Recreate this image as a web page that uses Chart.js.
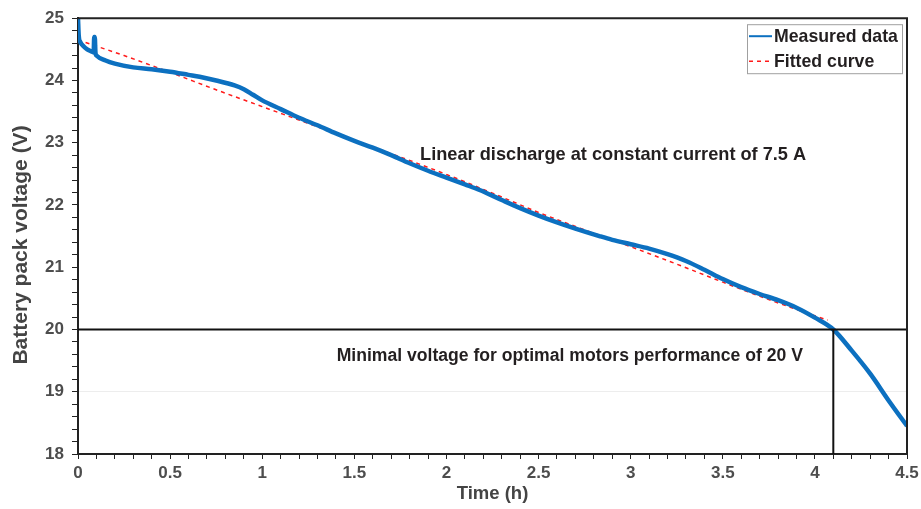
<!DOCTYPE html>
<html lang="en">
<head>
    <meta charset="UTF-8">
    <title>Battery pack discharge</title>
    <script src="https://cdn.jsdelivr.net/npm/chart.js"></script>
    <style>
        body {
            margin: 0;
            background: #fff;
        }
        .chart-box {
            position: relative;
            width: 921px;
            height: 509px;
        }
    </style>
</head>
<body>
    <div class="chart-box">
        <canvas id="dischargeChart"></canvas>
    </div>

    <script>
        // Measured pack voltage (h, V)
        const timeMeasured = [0, 0.004, 0.012, 0.03, 0.05, 0.07, 0.085, 0.088, 0.091, 0.095, 0.1, 0.15, 0.2, 0.3, 0.4,
            0.5, 0.6, 0.66, 0.75, 0.85, 0.9, 0.95, 1.0, 1.1, 1.2, 1.3, 1.4, 1.5, 1.6, 1.7, 1.8, 1.9, 2.0, 2.1, 2.18,
            2.3, 2.4, 2.5, 2.6, 2.7, 2.83, 2.9, 3.0, 3.1, 3.2, 3.3, 3.4, 3.5, 3.6, 3.7, 3.8, 3.9, 4.0, 4.1, 4.2,
            4.3, 4.4, 4.5];
        const voltMeasured = [25.0, 24.72, 24.62, 24.55, 24.5, 24.47, 24.45, 24.7, 24.7, 24.44, 24.4, 24.32, 24.27, 24.21, 24.18,
            24.14, 24.09, 24.06, 24.0, 23.92, 23.86, 23.77, 23.68, 23.54, 23.4, 23.28, 23.15, 23.03, 22.92, 22.8, 22.67, 22.55, 22.44, 22.33, 22.24,
            22.08, 21.95, 21.83, 21.72, 21.62, 21.5, 21.44, 21.37, 21.3, 21.21, 21.1, 20.96, 20.81, 20.68, 20.57, 20.47, 20.35, 20.19, 20.0, 19.66,
            19.29, 18.86, 18.45];

        // Fitted curve
        const timeFit = [0, 0.25, 0.5, 0.75, 1.0, 1.25, 1.5, 1.75, 2.0, 2.25, 2.5, 2.75, 3.0, 3.25, 3.5, 3.75, 4.0, 4.07];
        const voltFit = [24.65, 24.4, 24.13, 23.85, 23.58, 23.31, 23.04, 22.77, 22.49, 22.19, 21.88, 21.6, 21.33, 21.05, 20.76, 20.48, 20.22, 20.15];

        // Minimum voltage marker
        const minVolt = 20;
        const minTime = 4.1;

        const xMin = 0, xMax = 4.5;
        const yMin = 18, yMax = 25;

        const fontFamily = '"Liberation Sans", Arial, sans-serif';

        function toPoints(xs, ys) {
            return xs.map((x, i) => ({ x: x, y: ys[i] }));
        }

        // top/right frame, y title, annotations and legend box
        const extrasPlugin = {
            id: 'extras',
            afterDatasetsDraw(chart) {
                const ctx = chart.ctx;
                const area = chart.chartArea;
                const xs = chart.scales.x;
                const ys = chart.scales.y;
                ctx.save();

                ctx.strokeStyle = '#222';
                ctx.lineWidth = 2;
                ctx.beginPath();
                ctx.moveTo(area.left, area.top);
                ctx.lineTo(area.right, area.top);
                ctx.lineTo(area.right, area.bottom);
                ctx.stroke();

                // y axis title
                ctx.save();
                ctx.translate(21, 245);
                ctx.rotate(-Math.PI / 2);
                ctx.fillStyle = '#444';
                ctx.font = 'bold 21px ' + fontFamily;
                ctx.textAlign = 'center';
                ctx.textBaseline = 'middle';
                ctx.fillText('Battery pack voltage (V)', 0, 0);
                ctx.restore();

                ctx.fillStyle = '#231f20';
                ctx.textBaseline = 'middle';
                ctx.textAlign = 'left';
                ctx.font = 'bold 18.2px ' + fontFamily;
                ctx.fillText('Linear discharge at constant current of 7.5 A', xs.getPixelForValue(1.857), ys.getPixelForValue(22.81));
                ctx.font = 'bold 17.6px ' + fontFamily;
                ctx.fillText('Minimal voltage for optimal motors performance of 20 V', xs.getPixelForValue(1.404), ys.getPixelForValue(19.57));

                // legend
                const lx = area.right - 160, ly = area.top + 6;
                ctx.fillStyle = '#fff';
                ctx.fillRect(lx, ly, 155, 49);
                ctx.strokeStyle = '#a0a0a0';
                ctx.lineWidth = 1;
                ctx.strokeRect(lx + 0.5, ly + 0.5, 155, 49);

                ctx.strokeStyle = '#0c70c0';
                ctx.lineWidth = 2;
                ctx.beginPath();
                ctx.moveTo(lx + 2, ly + 12);
                ctx.lineTo(lx + 25, ly + 12);
                ctx.stroke();

                ctx.strokeStyle = '#ff1a1a';
                ctx.lineWidth = 1.5;
                ctx.setLineDash([4, 4]);
                ctx.beginPath();
                ctx.moveTo(lx + 2, ly + 37);
                ctx.lineTo(lx + 25, ly + 37);
                ctx.stroke();
                ctx.setLineDash([]);

                ctx.fillStyle = '#231f20';
                ctx.font = 'bold 17.7px ' + fontFamily;
                ctx.fillText('Measured data', lx + 27, ly + 13);
                ctx.fillText('Fitted curve', lx + 27, ly + 38);

                ctx.restore();
            }
        };

        new Chart(document.getElementById('dischargeChart'), {
            type: 'line',
            data: {
                datasets: [
                    {
                        label: 'Minimal voltage',
                        data: [{ x: xMin, y: minVolt }, { x: xMax, y: minVolt }],
                        borderColor: '#111',
                        borderWidth: 2,
                        pointRadius: 0
                    },
                    {
                        label: 'Minimal time',
                        data: [{ x: minTime, y: yMin }, { x: minTime, y: minVolt }],
                        borderColor: '#111',
                        borderWidth: 2,
                        pointRadius: 0
                    },
                    {
                        label: 'Measured data',
                        data: toPoints(timeMeasured, voltMeasured),
                        borderColor: '#0c70c0',
                        borderWidth: 4.5,
                        pointRadius: 0,
                        cubicInterpolationMode: 'monotone'
                    },
                    {
                        label: 'Fitted curve',
                        data: toPoints(timeFit, voltFit),
                        borderColor: '#ff1a1a',
                        borderWidth: 1.5,
                        borderDash: [4, 4],
                        pointRadius: 0,
                        cubicInterpolationMode: 'monotone'
                    }
                ]
            },
            options: {
                responsive: true,
                maintainAspectRatio: false,
                animation: false,
                layout: { padding: { top: 16, right: 14, left: 0, bottom: 0 } },
                plugins: {
                    legend: { display: false },
                    tooltip: { enabled: false }
                },
                scales: {
                    x: {
                        type: 'linear',
                        min: xMin,
                        max: xMax,
                        afterFit: scale => {
                            scale.height = 55;
                            scale.paddingRight = 0;
                            scale.paddingLeft = 0;
                        },
                        border: { color: '#222', width: 2 },
                        grid: { drawOnChartArea: false, tickLength: 5, color: '#222' },
                        ticks: {
                            stepSize: 0.1,
                            autoSkip: false,
                            maxRotation: 0,
                            padding: 4,
                            color: '#4d4d4d',
                            font: { family: fontFamily, size: 17, weight: 'bold' },
                            callback: v => {
                                const h = v * 2;
                                return Math.abs(h - Math.round(h)) < 1e-6 ? String(Math.round(v * 10) / 10) : '';
                            }
                        },
                        title: {
                            display: true,
                            text: 'Time (h)',
                            color: '#444',
                            padding: { top: 0, bottom: 4 },
                            font: { family: fontFamily, size: 18.5, weight: 'bold' }
                        }
                    },
                    y: {
                        min: yMin,
                        max: yMax,
                        afterFit: scale => { scale.width = 78; },
                        border: { color: '#222', width: 2 },
                        grid: {
                            drawOnChartArea: true,
                            tickLength: 6,
                            tickColor: '#222',
                            color: ctx => (ctx.tick && Math.abs(ctx.tick.value - 19) < 1e-6) ? 'rgba(0,0,0,0.07)' : 'rgba(0,0,0,0)'
                        },
                        ticks: {
                            stepSize: 0.2,
                            autoSkip: false,
                            padding: 8,
                            color: '#4d4d4d',
                            font: { family: fontFamily, size: 17, weight: 'bold' },
                            callback: v => Math.abs(v - Math.round(v)) < 1e-6 ? String(Math.round(v)) : ''
                        },
                        title: { display: false }
                    }
                }
            },
            plugins: [extrasPlugin]
        });
    </script>
</body>
</html>
